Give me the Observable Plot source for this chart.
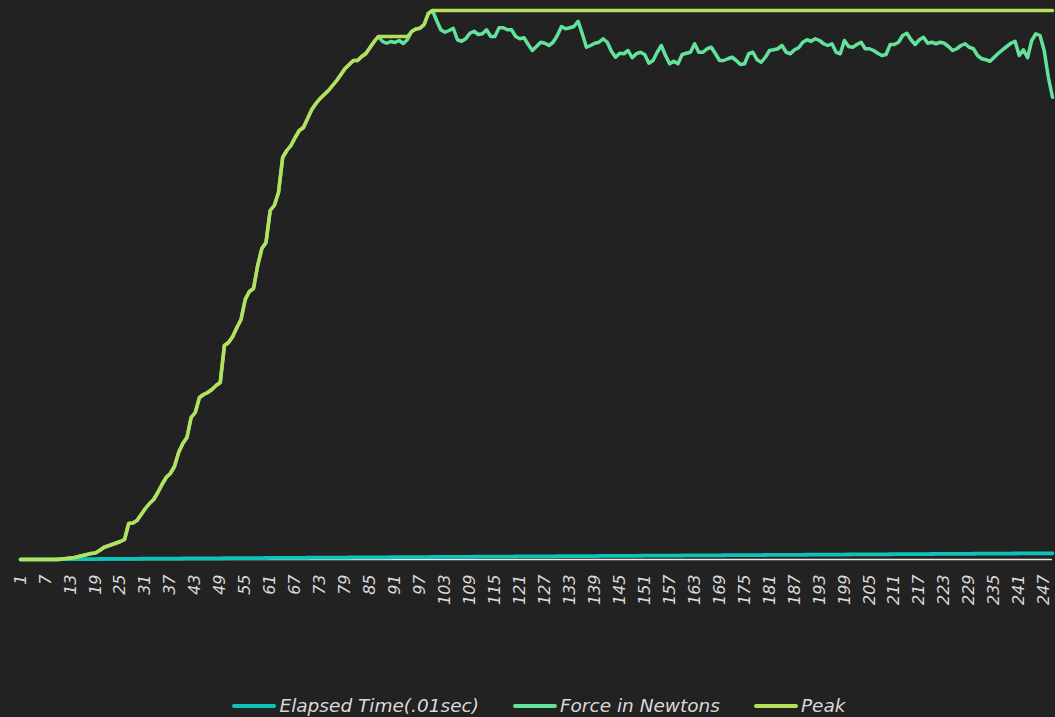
<!DOCTYPE html>
<html>
<head>
<meta charset="utf-8">
<script src="https://cdn.jsdelivr.net/npm/d3@7"></script>
<script src="https://cdn.jsdelivr.net/npm/@observablehq/plot@0.6"></script>
<style>
  html, body { margin: 0; padding: 0; background: #222222; }
  #chart svg { display: block; }
  .legend { display: flex; justify-content: center; align-items: center; gap: 34px; height: 31px; padding-left: 23px;
    font-family: "DejaVu Sans", sans-serif; font-style: italic; font-size: 18.5px; color: #d9d9d9; }
  .legend .item { display: flex; align-items: center; }
  .legend .sw { display: inline-block; width: 44px; height: 4px; border-radius: 2px; margin-right: 3px; }
</style>
</head>
<body>
<div id="chart"></div>
<div class="legend" id="legend"></div>
<script>
const categories = [
1,2,3,4,5,6,7,8,9,10,11,12,13,14,15,16,17,18,19,20,21,22,23,24,25,26,27,28,29,30,
31,32,33,34,35,36,37,38,39,40,41,42,43,44,45,46,47,48,49,50,51,52,53,54,55,56,57,58,59,60,
61,62,63,64,65,66,67,68,69,70,71,72,73,74,75,76,77,78,79,80,81,82,83,84,85,86,87,88,89,90,
91,92,93,94,95,96,97,98,99,100,101,102,103,104,105,106,107,108,109,110,111,112,113,114,115,116,117,118,119,120,
121,122,123,124,125,126,127,128,129,130,131,132,133,134,135,136,137,138,139,140,141,142,143,144,145,146,147,148,149,150,
151,152,153,154,155,156,157,158,159,160,161,162,163,164,165,166,167,168,169,170,171,172,173,174,175,176,177,178,179,180,
181,182,183,184,185,186,187,188,189,190,191,192,193,194,195,196,197,198,199,200,201,202,203,204,205,206,207,208,209,210,
211,212,213,214,215,216,217,218,219,220,221,222,223,224,225,226,227,228,229,230,231,232,233,234,235,236,237,238,239,240,
241,242,243,244,245,246,247,248,249];

const tickLabels = [1,7,13,19,25,31,37,43,49,55,61,67,73,79,85,91,97,103,109,115,121,127,133,139,145,151,157,163,169,175,181,187,193,199,205,211,217,223,229,235,241,247];

const elapsedTime = [
0.1,0.2,0.3,0.4,0.5,0.6,0.7,0.8,0.9,1.0,1.1,1.2,1.3,1.4,1.5,1.6,1.7,1.8,1.9,2.0,
2.1,2.2,2.3,2.4,2.5,2.6,2.7,2.8,2.9,3.0,3.1,3.2,3.3,3.4,3.5,3.6,3.7,3.8,3.9,4.0,
4.1,4.2,4.3,4.4,4.5,4.6,4.7,4.8,4.9,5.0,5.1,5.2,5.3,5.4,5.5,5.6,5.7,5.8,5.9,6.0,
6.1,6.2,6.3,6.4,6.5,6.6,6.7,6.8,6.9,7.0,7.1,7.2,7.3,7.4,7.5,7.6,7.7,7.8,7.9,8.0,
8.1,8.2,8.3,8.4,8.5,8.6,8.7,8.8,8.9,9.0,9.1,9.2,9.3,9.4,9.5,9.6,9.7,9.8,9.9,10.0,
10.1,10.2,10.3,10.4,10.5,10.6,10.7,10.8,10.9,11.0,11.1,11.2,11.3,11.4,11.5,11.6,11.7,11.8,11.9,12.0,
12.1,12.2,12.3,12.4,12.5,12.6,12.7,12.8,12.9,13.0,13.1,13.2,13.3,13.4,13.5,13.6,13.7,13.8,13.9,14.0,
14.1,14.2,14.3,14.4,14.5,14.6,14.7,14.8,14.9,15.0,15.1,15.2,15.3,15.4,15.5,15.6,15.7,15.8,15.9,16.0,
16.1,16.2,16.3,16.4,16.5,16.6,16.7,16.8,16.9,17.0,17.1,17.2,17.3,17.4,17.5,17.6,17.7,17.8,17.9,18.0,
18.1,18.2,18.3,18.4,18.5,18.6,18.7,18.8,18.9,19.0,19.1,19.2,19.3,19.4,19.5,19.6,19.7,19.8,19.9,20.0,
20.1,20.2,20.3,20.4,20.5,20.6,20.7,20.8,20.9,21.0,21.1,21.2,21.3,21.4,21.5,21.6,21.7,21.8,21.9,22.0,
22.1,22.2,22.3,22.4,22.5,22.6,22.7,22.8,22.9,23.0,23.1,23.2,23.3,23.4,23.5,23.6,23.7,23.8,23.9,24.0,
24.1,24.2,24.3,24.4,24.5,24.6,24.7,24.8,24.9];

const forceNewtons = [
0,0,0,0,0,0,0,0,0,0,
2,4,6,8,12,16,20,24,26,36,
48,54,60,66,72,80,144,146,156,180,
204,224,240,268,300,328,344,372,428,464,
488,568,588,648,660,668,680,696,708,856,
868,892,928,960,1040,1072,1084,1176,1244,1268,
1396,1416,1468,1608,1636,1656,1688,1716,1728,1764,
1800,1824,1844,1860,1876,1896,1916,1940,1964,1980,
1996,1996,2012,2024,2048,2072,2092,2072,2065,2072,
2068,2076,2064,2080,2112,2122,2125,2140,2184,2196,
2156,2119,2109,2116,2125,2079,2073,2083,2105,2113,
2100,2103,2119,2092,2092,2127,2127,2119,2119,2092,
2083,2087,2060,2036,2052,2069,2065,2056,2069,2096,
2132,2123,2127,2132,2153,2103,2049,2056,2065,2069,
2083,2069,2033,2009,2025,2023,2036,2007,2023,2029,
2020,1985,1996,2029,2056,2016,1983,1993,1983,2020,
2025,2029,2063,2029,2029,2043,2049,2023,1996,1996,
2003,2009,1996,1980,1983,2023,2029,1999,1989,2009,
2036,2039,2043,2056,2029,2023,2039,2047,2069,2079,
2073,2083,2076,2063,2056,2063,2029,2023,2076,2052,
2049,2060,2069,2043,2043,2036,2025,2016,2020,2060,
2060,2069,2096,2105,2079,2060,2079,2089,2065,2069,
2063,2069,2065,2052,2036,2043,2056,2063,2049,2043,
2016,2003,1999,1993,2009,2025,2039,2052,2065,2073,
2016,2039,2007,2076,2103,2096,2036,1929,1849];

const peak = [
0,0,0,0,0,0,0,0,0,0,
2,4,6,8,12,16,20,24,26,36,
48,54,60,66,72,80,144,146,156,180,
204,224,240,268,300,328,344,372,428,464,
488,568,588,648,660,668,680,696,708,856,
868,892,928,960,1040,1072,1084,1176,1244,1268,
1396,1416,1468,1608,1636,1656,1688,1716,1728,1764,
1800,1824,1844,1860,1876,1896,1916,1940,1964,1980,
1996,1996,2012,2024,2048,2072,2092,2092,2092,2092,
2092,2092,2092,2092,2112,2122,2125,2140,2184,2196,
2196,2196,2196,2196,2196,2196,2196,2196,2196,2196,
2196,2196,2196,2196,2196,2196,2196,2196,2196,2196,
2196,2196,2196,2196,2196,2196,2196,2196,2196,2196,
2196,2196,2196,2196,2196,2196,2196,2196,2196,2196,
2196,2196,2196,2196,2196,2196,2196,2196,2196,2196,
2196,2196,2196,2196,2196,2196,2196,2196,2196,2196,
2196,2196,2196,2196,2196,2196,2196,2196,2196,2196,
2196,2196,2196,2196,2196,2196,2196,2196,2196,2196,
2196,2196,2196,2196,2196,2196,2196,2196,2196,2196,
2196,2196,2196,2196,2196,2196,2196,2196,2196,2196,
2196,2196,2196,2196,2196,2196,2196,2196,2196,2196,
2196,2196,2196,2196,2196,2196,2196,2196,2196,2196,
2196,2196,2196,2196,2196,2196,2196,2196,2196,2196,
2196,2196,2196,2196,2196,2196,2196,2196,2196,2196,
2196,2196,2196,2196,2196,2196,2196,2196,2196];

const seriesNames = ["Elapsed Time(.01sec)", "Force in Newtons", "Peak"];
const seriesColors = ["#0dc2b6", "#62e29a", "#b5e05b"];

const rows = categories.map((c, k) => ({cat: c, time: elapsedTime[k], force: forceNewtons[k], peak: peak[k]}));

const chart = Plot.plot({
  width: 1055,
  height: 690,
  marginLeft: 20,
  marginRight: 3,
  marginTop: 10,
  marginBottom: 131,
  style: {background: "#222222", color: "#d9d9d9", fontFamily: "DejaVu Sans, sans-serif"},
  x: {type: "point", domain: categories, padding: 0},
  y: {domain: [0, 2196], axis: null},
  marks: [
    Plot.ruleY([0], {stroke: "#e8e8e8", strokeWidth: 1.3}),
    Plot.axisX({ticks: tickLabels, tickSize: 0, tickPadding: 15, tickRotate: -90, fontSize: 16, fontStyle: "italic", fill: "#d9d9d9", label: null}),
    Plot.line(rows, {x: "cat", y: "time", stroke: seriesColors[0], strokeWidth: 3.8, strokeLinejoin: "round", strokeLinecap: "round"}),
    Plot.line(rows, {x: "cat", y: "force", stroke: seriesColors[1], strokeWidth: 3.5, strokeLinejoin: "round", strokeLinecap: "round"}),
    Plot.line(rows, {x: "cat", y: "peak", stroke: seriesColors[2], strokeWidth: 3.5, strokeLinejoin: "round", strokeLinecap: "round"})
  ]
});
document.getElementById("chart").appendChild(chart);

const legend = document.getElementById("legend");
seriesNames.forEach((name, k) => {
  const item = document.createElement("span");
  item.className = "item";
  const sw = document.createElement("span");
  sw.className = "sw";
  sw.style.background = seriesColors[k];
  const label = document.createElement("span");
  label.textContent = name;
  item.appendChild(sw);
  item.appendChild(label);
  legend.appendChild(item);
});
</script>
</body>
</html>
